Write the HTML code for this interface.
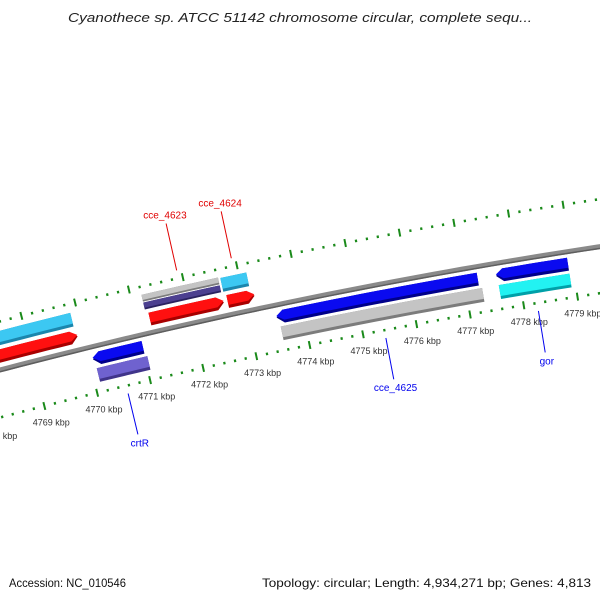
<!DOCTYPE html>
<html><head><meta charset="utf-8"><style>
body{margin:0;background:#fff}
svg{display:block;font-family:"Liberation Sans","DejaVu Sans",sans-serif}
</style></head><body>
<svg id="map" width="600" height="600" viewBox="0 0 600 600" xmlns="http://www.w3.org/2000/svg">
<text x="300" y="22" text-anchor="middle" font-size="13" font-style="italic" fill="#222" textLength="464" lengthAdjust="spacingAndGlyphs">Cyanothece sp. ATCC 51142 chromosome circular, complete sequ...</text>
<g id="ticks"></g>
<g id="backbone"></g>
<g id="genes"></g>
<g id="labels"></g>
<text x="9" y="587" font-size="12" fill="#111" textLength="117" lengthAdjust="spacingAndGlyphs">Accession: NC_010546</text>
<text x="591" y="587" text-anchor="end" font-size="12" fill="#111" textLength="329" lengthAdjust="spacingAndGlyphs">Topology: circular; Length: 4,934,271 bp; Genes: 4,813</text>
</svg>
<script>
// data
const geneNames = ["left-lightblue","left-red","cce_4623-gray","cce_4623-purple","cce_4623","cce_4624-blue","cce_4624","crtR-blue","crtR-purple","cce_4625","cce_4625-gray","gor","gor-cyan","right-teal","right-red"];
const geneStarts = [4766.5,4766.5,4771.2,4771.2,4771.25,4772.66,4772.7,4770.07,4770.1,4773.51,4773.55,4777.59,4777.61,4779.7,4779.75];
const geneEnds   = [4769.87,4769.9,4772.62,4772.62,4772.63,4773.14,4773.2,4771.01,4771.05,4777.25,4777.3,4778.92,4778.92,4781.5,4781.5];
const geneStrands = [0,1,0,0,1,0,1,-1,0,-1,0,-1,0,0,1];
const geneLanes = ["oB","oA","oBt","oBb","oA","oB","oA","iA","iB","iA","iB","iA","iB","oB","oA"];
const geneColors = [["#3cc8f2","#1b86ad"],["#ff1010","#a80000"],["#c4c4c4","#7c7c7c"],["#4c4090","#2a2260"],["#ff1010","#a80000"],["#3cc8f2","#1b86ad"],["#ff1010","#a80000"],["#0a0af0","#00008a"],["#6f62cf","#40348a"],["#0a0af0","#00008a"],["#c4c4c4","#7c7c7c"],["#0a0af0","#00008a"],["#22f2f2","#00a0a8"],["#1ec8d0","#0f8a90"],["#ff1010","#a80000"]];
const labelTexts = ["cce_4623","cce_4624","crtR","cce_4625","gor"];
const labelKbp = [4771.92,4772.93,4770.55,4775.4,4778.25];
const labelSide = [1,1,-1,-1,-1];
const labelColors = ["#e00000","#e00000","#0000ee","#0000ee","#0000ee"];
const tickStart = 4766, tickEnd = 4782;

const lanes = {oA:[5787,5800],oB:[5804,5818],oBt:[5812,5819],oBb:[5804,5811],iA:[5761,5774],iB:[5744,5758]};
const CX=1462, CY=5962, A0=-103.77, DEG=0.544;
function P(k,r){const a=(A0+(k-4770)*DEG)*Math.PI/180;return [CX+r*Math.cos(a),CY+r*Math.sin(a)];}
const NS="http://www.w3.org/2000/svg";
function mk(tag,parent){const e=document.createElementNS(NS,tag);parent.appendChild(e);return e;}
function arcPts(k1,k2,r){const pts=[];const n=Math.max(2,Math.ceil(Math.abs(k2-k1)*4));for(let i=0;i<=n;i++){pts.push(P(k1+(k2-k1)*i/n,r));}return pts;}
function ptsStr(p){return p.map(q=>q[0].toFixed(2)+","+q[1].toFixed(2)).join(" ");}

// ticks
const tg=document.getElementById('ticks');
for(let t=tickStart*5;t<=tickEnd*5;t++){
  const k=t/5, major=(t%5===0);
  [5734,5827].forEach(r=>{
    const l=mk('line',tg);
    
    
    const a=P(k,r-(major?4:1.3)), b=P(k,r+(major?4:1.3));
    l.setAttribute('x1',a[0]);l.setAttribute('y1',a[1]);l.setAttribute('x2',b[0]);l.setAttribute('y2',b[1]);
    l.setAttribute('stroke','#1a8a1a');l.setAttribute('stroke-width',major?2:2.2);
  });
  if(major){
    const p=P(k,5718);
    const tx=mk('text',tg);
    
    
    tx.setAttribute('x',p[0]+3);tx.setAttribute('y',p[1]+4);
    tx.setAttribute('text-anchor','middle');tx.setAttribute('font-size','9');tx.setAttribute('fill','#333');
    tx.textContent=k+" kbp";
  }
}
// backbone
const bg=document.getElementById('backbone');
const bb=mk('polygon',bg);


bb.setAttribute('points',ptsStr(arcPts(4764,4783,5782.5).concat(arcPts(4783,4764,5777.5))));
bb.setAttribute('fill','#8a8a8a');
const bb2=mk('polygon',bg);


bb2.setAttribute('points',ptsStr(arcPts(4764,4783,5779).concat(arcPts(4783,4764,5777.5))));
bb2.setAttribute('fill','#5e5e5e');

// genes
const gg=document.getElementById('genes');
function shape(k1,k2,rIn,rOut,strand){
  const head=0.13;
  let outer,inner;
  if(strand===1){
    const ke=k2-head;
    outer=arcPts(k1,ke,rOut);
    inner=arcPts(ke,k1,rIn);
    return outer.concat([P(k2,(rIn+rOut)/2)],inner);
  } else if(strand===-1){
    const ks=k1+head;
    outer=arcPts(ks,k2,rOut);
    inner=arcPts(k2,ks,rIn);
    return outer.concat(inner,[P(k1,(rIn+rOut)/2)]);
  }
  return arcPts(k1,k2,rOut).concat(arcPts(k2,k1,rIn));
}
for(let i=0;i<geneNames.length;i++){
  const [rIn,rOut]=lanes[geneLanes[i]];
  const h=rOut-rIn;
  const base=mk('polygon',gg);
  
  
  base.setAttribute('points',ptsStr(shape(geneStarts[i],geneEnds[i],rIn,rOut,geneStrands[i])));
  base.setAttribute('fill',geneColors[i][1]);
  const top=mk('polygon',gg);
  
  
  top.setAttribute('points',ptsStr(shape(geneStarts[i],geneEnds[i],rIn+Math.min(3,h*0.25),rOut,geneStrands[i])));
  top.setAttribute('fill',geneColors[i][0]);
}
// labels
const lg=document.getElementById('labels');
for(let i=0;i<labelTexts.length;i++){
  const k=labelKbp[i], s=labelSide[i];
  const r1=s>0?5835:5726, r2=s>0?5883:5684;
  const a=P(k,r1), b=P(k,r2);
  const l=mk('line',lg);
  
  
  l.setAttribute('x1',a[0]);l.setAttribute('y1',a[1]);l.setAttribute('x2',b[0]);l.setAttribute('y2',b[1]);
  l.setAttribute('stroke',labelColors[i]);l.setAttribute('stroke-width','1');
  const tp=s>0?P(k,5888):P(k,5680);
  const t=mk('text',lg);
  
  
  t.setAttribute('x',tp[0]+(s>0?0:1));t.setAttribute('y',s>0?tp[1]:tp[1]+8);
  t.setAttribute('text-anchor','middle');t.setAttribute('font-size','10');t.setAttribute('fill',labelColors[i]);
  t.textContent=labelTexts[i];
}
</script>
</body></html>
